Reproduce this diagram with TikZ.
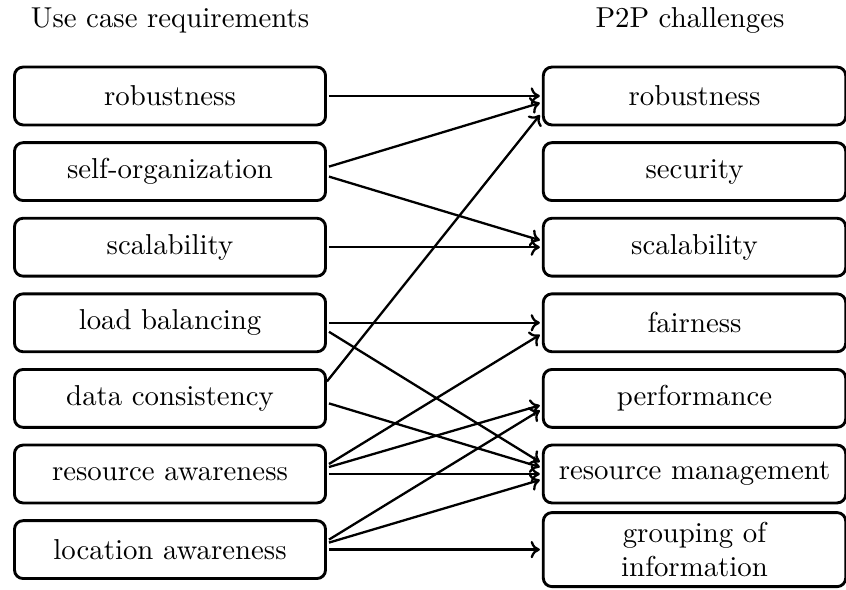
\documentclass[tikz,border=0pt]{standalone}
\usetikzlibrary{calc,arrows.meta}
\begin{document}
\begin{tikzpicture}[x=0.3472pt,y=-0.3472pt,
  box/.style={draw,line width=1pt,rounded corners=3pt,minimum height=20.1pt,inner sep=2pt,align=center},
  lbox/.style={box,minimum width=108pt},
  rbox/.style={box,minimum width=105pt},
  arr/.style={-{To[length=3.2pt,width=6pt]},line width=0.8pt},
  heading/.style={anchor=base}]
\useasboundingbox (0,0) rectangle (846,590);

% column headings
\node[heading] (tl) at (170,28) {Use case requirements};
\node[heading] (tr) at (690,28) {P2P challenges};

% use case requirements
\node[lbox] (l0) at (170,96)    {robustness};
\node[lbox] (l1) at (170,171.6) {self-organization};
\node[lbox] (l2) at (170,247.2) {scalability};
\node[lbox] (l3) at (170,322.8) {load balancing};
\node[lbox] (l4) at (170,398.4) {data consistency};
\node[lbox] (l5) at (170,474)   {resource awareness};
\node[lbox] (l6) at (170,549.6) {location awareness};

% P2P challenges
\node[rbox] (r0) at (694.5,96)    {robustness};
\node[rbox] (r1) at (694.5,171.6) {security};
\node[rbox] (r2) at (694.5,247.2) {scalability};
\node[rbox] (r3) at (694.5,322.8) {fairness};
\node[rbox] (r4) at (694.5,398.4) {performance};
\node[rbox] (r5) at (694.5,474)   {resource management};
\node[rbox,minimum height=25.7pt] (r6) at (694.5,549.6) {grouping of\\information};

% mappings
\draw[arr] ($(l0.east)+(2,0)$)   -- ($(r0.west)+(-2,0)$);
\draw[arr] ($(l1.east)+(2,-5)$)  -- ($(r0.west)+(-2,7)$);
\draw[arr] ($(l1.east)+(2,5)$)   -- ($(r2.west)+(-2,-7)$);
\draw[arr] ($(l2.east)+(2,0)$)   -- ($(r2.west)+(-2,0)$);
\draw[arr] ($(l3.east)+(2,0)$)   -- ($(r3.west)+(-2,0)$);
\draw[arr] ($(l3.east)+(2,9)$)   -- ($(r5.west)+(-2,-12)$);
\draw[arr] ($(l4.east)+(0,-17)$) -- ($(r0.west)+(-2,19)$);
\draw[arr] ($(l4.east)+(2,5)$)   -- ($(r5.west)+(-2,-7)$);
\draw[arr] ($(l5.east)+(2,-10)$) -- ($(r3.west)+(-2,12)$);
\draw[arr] ($(l5.east)+(2,-7)$)  -- ($(r4.west)+(-2,7)$);
\draw[arr] ($(l5.east)+(2,0)$)   -- ($(r5.west)+(-2,0)$);
\draw[arr] ($(l6.east)+(2,-10)$) -- ($(r4.west)+(-2,12)$);
\draw[arr] ($(l6.east)+(2,-7)$)  -- ($(r5.west)+(-2,6)$);
\draw[arr] ($(l6.east)+(2,0)$)   -- ($(r6.west)+(-2,0)$);
\end{tikzpicture}
\end{document}
